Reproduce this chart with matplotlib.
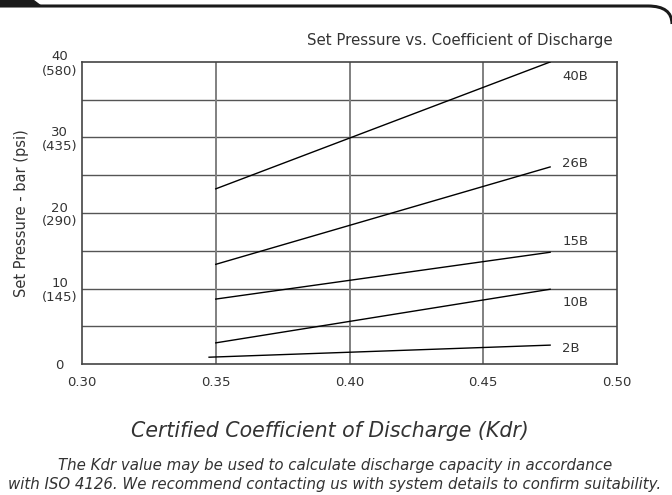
import numpy as np
import matplotlib.pyplot as plt
from matplotlib.path import Path
from matplotlib.patches import PathPatch, Polygon

plt.rcParams['font.family'] = ['DejaVu Sans']

# data
models = ['40B', '26B', '15B', '10B', '2B']
kdr_start = [0.35, 0.35, 0.35, 0.35, 0.3475]
kdr_end = [0.475, 0.475, 0.475, 0.475, 0.475]
p_start = [23.2, 13.2, 8.6, 2.8, 0.9]
p_end = [40.0, 26.1, 14.8, 9.9, 2.5]
label_y = [38.1, 26.5, 16.2, 8.1, 2.0]

y_ticks = [0, 10, 20, 30, 40]
y_labels = ['0', '10\n(145)', '20\n(290)', '30\n(435)', '40\n(580)']
x_ticks = [0.30, 0.35, 0.40, 0.45, 0.50]

txt = '#333333'

fig = plt.figure(figsize=(6.72, 4.95), dpi=100)
ax = fig.add_axes([82/672, 1 - 364/495, 535/672, 302/495])

ax.set_xlim(0.30, 0.50)
ax.set_ylim(0, 40)

# grid
for v in np.arange(5, 40, 5):
    ax.axhline(v, color='#555555', lw=1.0, zorder=1)
for v in x_ticks[1:-1]:
    ax.axvline(v, color='#808080', lw=1.4, zorder=1)
for s in ax.spines.values():
    s.set_color('#444444')
    s.set_linewidth(1.2)

for m, x0, x1, y0, y1, ly in zip(models, kdr_start, kdr_end, p_start, p_end, label_y):
    ax.plot([x0, x1], [y0, y1], color='black', lw=1.0, zorder=3)
    ax.text(0.4795, ly, m, fontsize=9.5, color=txt, va='center', ha='left')

ax.set_yticks(y_ticks)
ax.set_yticklabels(y_labels, multialignment='center', ha='center', fontsize=9.5,
                   color=txt, linespacing=1.1)
ax.tick_params(axis='y', length=0, pad=16)
ax.set_xticks(x_ticks)
ax.set_xticklabels(['%.2f' % v for v in x_ticks], fontsize=9.5, color=txt)
ax.tick_params(axis='x', length=0, pad=9)

ax.set_ylabel('Set Pressure - bar (psi)', fontsize=10.5, color=txt, labelpad=9)
fig.text(613/672, 1 - 40/495, 'Set Pressure vs. Coefficient of Discharge',
         ha='right', va='center', fontsize=10.8, color=txt)
fig.text(330/672, 1 - 431/495, 'Certified Coefficient of Discharge (Kdr)',
         ha='center', va='center', fontsize=14.8, style='italic', color=txt)
fig.text(335/672, 1 - 475/495,
         'The Kdr value may be used to calculate discharge capacity in accordance\n'
         'with ISO 4126. We recommend contacting us with system details to confirm suitability.',
         ha='center', va='center', fontsize=10.8, style='italic', color=txt, linespacing=1.3)

# header decoration (tab + rounded rule)
W, H = 672, 495
fig.patches.append(Polygon([(0, 1), (33/W, 1), (41/W, 1 - 6/H), (0, 1 - 6/H)],
                           closed=True, transform=fig.transFigure, color='#1a1a1a'))
verts = [(0, 1 - 6/H), (648/W, 1 - 6/H), (672/W, 1 - 6/H), (672/W, 1 - 24/H)]
codes = [Path.MOVETO, Path.LINETO, Path.CURVE3, Path.CURVE3]
fig.patches.append(PathPatch(Path(verts, codes), transform=fig.transFigure,
                             fill=False, lw=2.2, edgecolor='#1a1a1a'))

fig.savefig('out.png', dpi=100)
